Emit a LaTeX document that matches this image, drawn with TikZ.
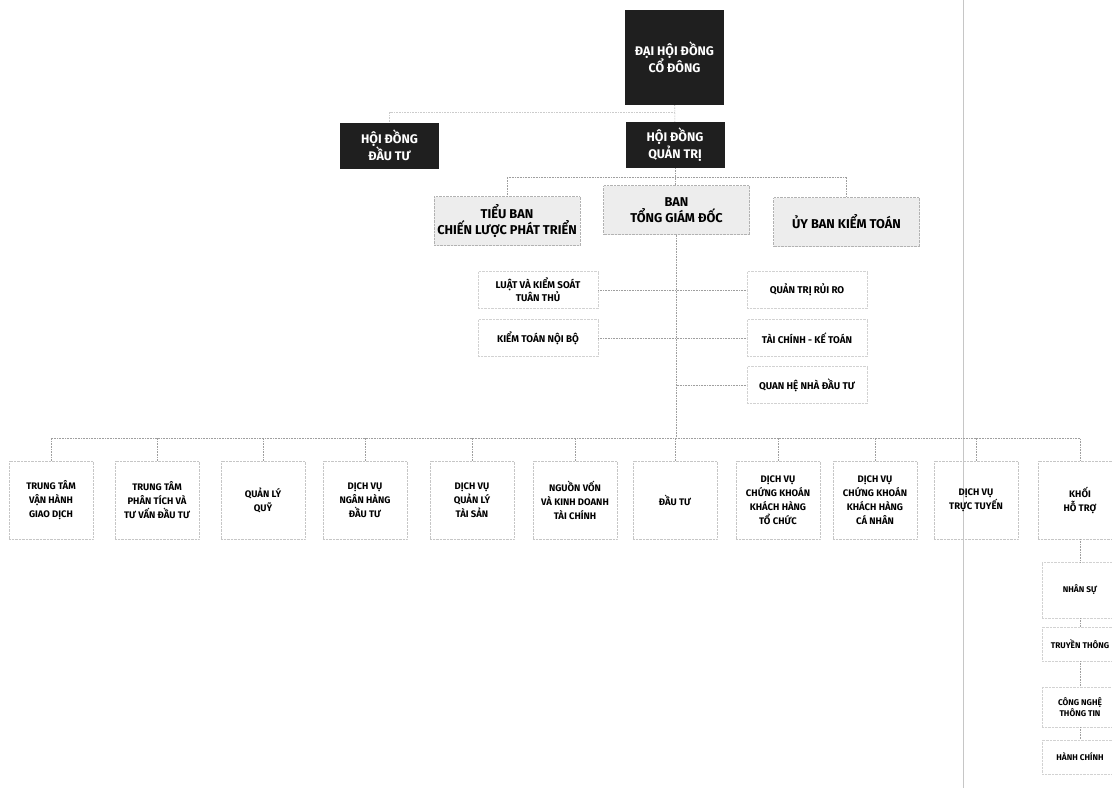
\documentclass[tikz,border=0pt]{standalone}
\usepackage{fontspec}
\setmainfont{Fira Sans}

\begin{document}
\begin{tikzpicture}[x=1pt,y=-1pt,
        den/.style={fill=black!88,text=white,font=\bfseries\fontsize{12.5}{17}\selectfont,align=center,minimum width=99pt,inner sep=0pt},
        xam/.style={draw=gray!60,densely dotted,fill=gray!14,font=\bfseries\fontsize{12.8}{16.5}\selectfont,align=center,minimum width=146pt,minimum height=49pt,inner sep=0pt},
        nho/.style={draw=gray!35,densely dotted,font=\bfseries\fontsize{9.8}{12}\selectfont,align=center,minimum width=120pt,minimum height=37pt,inner sep=0pt},
        khoi/.style={draw=gray!45,densely dotted,font=\bfseries\fontsize{9.5}{14}\selectfont,align=center,minimum width=84pt,minimum height=78pt,inner sep=0pt},
        con/.style={draw=gray!35,densely dotted,font=\bfseries\fontsize{8.3}{11}\selectfont,align=center,minimum width=76pt,inner sep=0pt},
        noi/.style={gray!75,densely dotted,line width=0.6pt}]
        \fill[white] (0,0) rectangle (1112,788);
        \useasboundingbox (0,0) rectangle (1112,788);
        \draw[gray!45,line width=0.8pt] (963,0)--(963,788);   % nep gap cua ban scan

        % cap tren
        \node[den,minimum height=95pt] (dhdcd) at (674.5,57.5) {ĐẠI HỘI ĐỒNG\\CỔ ĐÔNG};
        \node[den,minimum height=46pt] (hdqt) at (675,145) {HỘI ĐỒNG\\QUẢN TRỊ};
        \node[den,minimum height=46pt] (hddt) at (389.5,145.5) {HỘI ĐỒNG\\ĐẦU TƯ};
        \node[xam] (tieuban) at (507,221) {TIỂU BAN\\CHIẾN LƯỢC PHÁT TRIỂN};
        \node[xam] (tgd) at (676.5,210) {BAN\\TỔNG GIÁM ĐỐC};
        \node[xam] (uyban) at (846.5,222) {ỦY BAN KIỂM TOÁN};

        \coordinate (r0) at (674.5,112);
        \coordinate (b1) at (676,177);
        \coordinate (b2) at (677,438);
        \draw[noi] (dhdcd)--(hdqt);
        \draw[noi,gray!40] (r0) -| (hddt.north);
        \draw[noi] (tieuban.north) |- (b1) -| (uyban.north);
        \draw[noi] (hdqt.south)--(hdqt.south |- tgd.north);

        % cac phong ban giua
        \node[nho] (luat) at (538,290) {LUẬT VÀ KIỂM SOÁT\\TUÂN THỦ};
        \node[nho] (kiemtoan) at (538,338) {KIỂM TOÁN NỘI BỘ};
        \node[nho] (qtrr) at (807,290) {QUẢN TRỊ RỦI RO};
        \node[nho] (tckt) at (807,338) {TÀI CHÍNH - KẾ TOÁN};
        \node[nho] (qhndt) at (807,385) {QUAN HỆ NHÀ ĐẦU TƯ};
        \draw[noi] (tgd.south)--(tgd.south |- b2);
        \draw[noi] (luat.east)--(qtrr.west);
        \draw[noi] (kiemtoan.east)--(tckt.west);
        \draw[noi] (tgd.south |- qhndt.west)--(qhndt.west);

        % hang khoi duoi
        \foreach \x/\t [count=\i] in {51/{TRUNG TÂM\\VẬN HÀNH\\GIAO DỊCH},157/{TRUNG TÂM\\PHÂN TÍCH VÀ\\TƯ VẤN ĐẦU TƯ},
            263/{QUẢN LÝ\\QUỸ},365/{DỊCH VỤ\\NGÂN HÀNG\\ĐẦU TƯ},472/{DỊCH VỤ\\QUẢN LÝ\\TÀI SẢN},
            575/{NGUỒN VỐN\\VÀ KINH DOANH\\TÀI CHÍNH},675/{ĐẦU TƯ},778/{DỊCH VỤ\\CHỨNG KHOÁN\\KHÁCH HÀNG\\TỔ CHỨC},
            875/{DỊCH VỤ\\CHỨNG KHOÁN\\KHÁCH HÀNG\\CÁ NHÂN},976/{DỊCH VỤ\\TRỰC TUYẾN},1080/{KHỐI\\HỖ TRỢ}}
            \node[khoi] (k\i) at (\x,500) {\t};
        \draw[noi] (k1.north) |- (b2) -| (k11.north);
        \foreach \i in {2,...,10}
            \draw[noi] (k\i.north)--(k\i.north |- b2);

        % khoi ho tro
        \node[con,minimum height=56pt] (nhansu) at (1080,590) {NHÂN SỰ};
        \node[con,minimum height=34pt] (truyenthong) at (1080,644) {TRUYỀN THÔNG};
        \node[con,minimum height=40pt] (cntt) at (1080,707) {CÔNG NGHỆ\\THÔNG TIN};
        \node[con,minimum height=34pt] (hanhchinh) at (1080,757) {HÀNH CHÍNH};
        \draw[noi] (k11.south)--(nhansu.north);
        \draw[noi] (nhansu)--(truyenthong);
        \draw[noi] (truyenthong)--(cntt);
        \draw[noi] (cntt)--(hanhchinh);
    \end{tikzpicture}
\end{document}
